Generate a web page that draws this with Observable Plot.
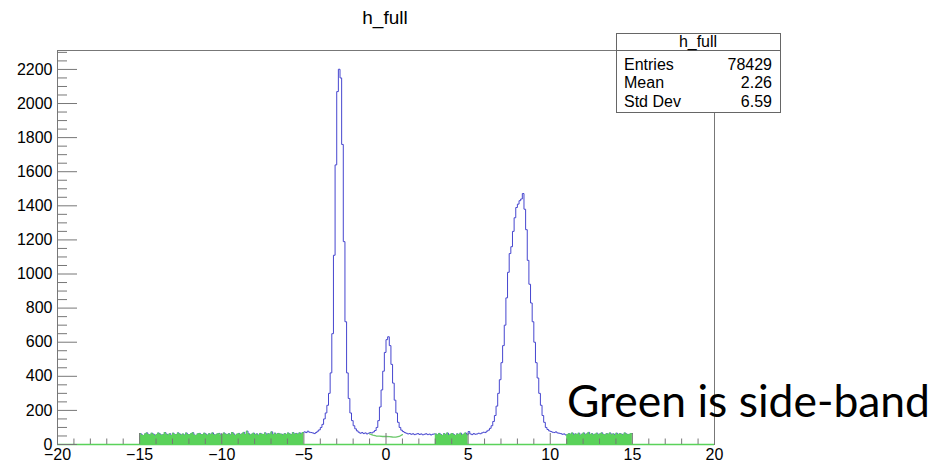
<!DOCTYPE html>
<html><head><meta charset="utf-8">
<script src="https://cdn.jsdelivr.net/npm/d3@7"></script>
<script src="https://cdn.jsdelivr.net/npm/@observablehq/plot@0.6"></script>
<style>
  html, body { margin: 0; padding: 0; background: #fff; }
  #chart svg { display: block; }
</style>
</head><body><div id="chart"></div>
<script>
// ---- data (histogram h_full, bin width 0.1) ----
const binWidth = 0.1;
// -15.0 ... -5.1  (side-band)
const leftSideband = [64,56,53,62,68,58,55,66,60,52, 59,67,61,54,57,70,60,55,63,53, 66,58,57,68,61,55,61,54,67,58, 57,63,69,55,53,62,65,58,57,66, 60,54,63,58,68,57,55,62,65,54, 59,67,60,57,63,55,70,61,53,60, 65,57,62,71,58,78,63,55,60,66, 57,62,54,65,60,58,68,55,63,60, 74,57,66,58,65,61,60,55,63,58, 67,61,57,69,60,65,58,68,62,70];
// -5.0 ... 2.9  (signal region A)
const signalA = [74,70,78,72,70,68,64,70,78,86, 100,118,150,185,230,300,420,650,1110,1640, 2070,2201,2150,1760,1190,720,420,270,185,140, 110,92,80,72,66,70,64,68,62,66, 70,68,74,82,100,140,220,320,430,540, 615,632,580,470,360,260,185,130,100,84, 76,70,66,62,64,60,63,58,61,64, 59,62,57,60,63,58,61,56,60,62];
// 3.0 ... 4.9  (side-band)
const midSideband = [61,55,65,58,53,63,57,67,54,60, 64,57,53,62,58,66,55,60,67,57];
// 5.0 ... 10.9 (signal region B)
const signalB = [76,62,58,64,60,62,66,63,68,72, 70,78,84,95,110,135,170,225,300,380, 480,580,700,860,1010,1120,1160,1250,1330,1390, 1410,1430,1440,1472,1380,1260,1080,940,830,720, 600,480,390,300,230,170,130,100,88,80, 76,72,70,74,68,66,64,60,62,56];
// 11.0 ... 14.9 (side-band)
const rightSideband = [57,63,60,67,55,62,58,66,54,60, 67,57,62,71,58,63,55,60,66,57, 62,68,58,55,63,60,67,57,62,54, 66,58,63,60,55,67,61,57,60,64];

const segmentStarts = [-15, -5, 3, 5, 11];
const segmentValues = [leftSideband, signalA, midSideband, signalB, rightSideband];
const segmentIsSideband = [true, false, true, false, true];

// green thin line under the middle peak
const fitX = [-1.0,-0.8,-0.6,-0.4,-0.2,0,0.2,0.4,0.6,0.8,1.0];
const fitY = [62,55,50,49,47,48,46,44,43,47,58];

const xTicks = [-20,-15,-10,-5,0,5,10,15,20];
const yTicks = [0,200,400,600,800,1000,1200,1400,1600,1800,2000,2200];

const titleText = "h_full";
const statLabels = ["Entries", "Mean", "Std Dev"];
const statValues = ["78429", "2.26", "6.59"];
const noteText = "Green is side-band";

// ---- build tables ----
const bluePts = [];
const greenPts = [];
segmentValues.forEach((vals, s) => {
  const start = segmentStarts[s];
  vals.forEach((v, i) => {
    const x = +(start + i * binWidth).toFixed(2);
    bluePts.push({x, y: v});
    if (segmentIsSideband[s]) greenPts.push({x, y: v, band: s});
  });
  if (segmentIsSideband[s]) {
    greenPts.push({x: +(start + vals.length * binWidth).toFixed(2), y: vals[vals.length - 1], band: s});
  }
});
const lastVals = segmentValues[segmentValues.length - 1];
bluePts.push({x: +(segmentStarts[segmentStarts.length - 1] + lastVals.length * binWidth).toFixed(2), y: lastVals[lastVals.length - 1]});
const fitPts = fitX.map((x, i) => ({x, y: fitY[i]}));

const xMinor = d3.range(-20, 21, 1).filter(d => !xTicks.includes(d));
const yMinor = d3.range(0, 2311, 50).filter(d => !yTicks.includes(d));

const W = 944, H = 465;
const mL = 57, mR = 230, mT = 50, mB = 21;
const frameW = W - mL - mR, frameH = H - mT - mB;
const GREEN = "#5ad25a", BLUE = "#4646cf", AXIS = "#777";
const FONT = "'Liberation Sans', Arial, Helvetica, sans-serif";

const plot = Plot.plot({
  width: W, height: H,
  marginLeft: mL, marginRight: mR, marginTop: mT, marginBottom: mB,
  x: {domain: [-20, 20]},
  y: {domain: [0, 2311]},
  style: {fontFamily: FONT, fontSize: "16px", background: "white", overflow: "visible", color: "#000"},
  marks: [
    Plot.lineY(bluePts, {x: "x", y: "y", curve: "step-after", stroke: BLUE, strokeWidth: 1}),
    Plot.areaY(greenPts, {x: "x", y: "y", z: "band", curve: "step-after", fill: GREEN}),
    Plot.lineY(fitPts, {x: "x", y: "y", stroke: "#6cc86c", strokeWidth: 1.3}),
    Plot.frame({stroke: AXIS}),
    Plot.ruleY([0], {stroke: GREEN, strokeWidth: 1.5}),
    Plot.ruleY(yTicks, {y: d => d, insetRight: frameW - 20, stroke: AXIS}),
    Plot.ruleY(yMinor, {y: d => d, insetRight: frameW - 10, stroke: AXIS}),
    Plot.ruleX(xTicks, {x: d => d, insetTop: frameH - 11, stroke: AXIS}),
    Plot.ruleX(xMinor, {x: d => d, insetTop: frameH - 5.5, stroke: AXIS}),
    Plot.axisY({ticks: yTicks, tickSize: 0, tickPadding: 5, tickFormat: "d", label: null, fontSize: 16, fill: "#000"}),
    Plot.axisX({ticks: xTicks, tickSize: 0, tickPadding: 4, tickFormat: "d", label: null, fontSize: 16, fill: "#000"})
  ]
});
document.getElementById("chart").appendChild(plot);

const svg = d3.select(plot);
// title
svg.append("text").attr("x", 385).attr("y", 24).attr("text-anchor", "middle")
  .attr("font-family", FONT).attr("font-size", 19).attr("fill", "#000").text(titleText);
// stats box
const bx = 616, by = 33, bw = 164, bh = 79;
const g = svg.append("g").attr("text-anchor", "start");
g.append("rect").attr("x", bx + 0.5).attr("y", by + 0.5).attr("width", bw).attr("height", bh)
  .attr("fill", "#fff").attr("stroke", "#666");
g.append("line").attr("x1", bx + 0.5).attr("x2", bx + bw + 0.5).attr("y1", 50.5).attr("y2", 50.5).attr("stroke", "#666");
g.append("text").attr("x", bx + bw / 2).attr("y", 47).attr("text-anchor", "middle")
  .attr("font-family", FONT).attr("font-size", 16).text(titleText);
statLabels.forEach((lab, i) => {
  const yy = 70 + i * 18.4;
  g.append("text").attr("x", 624).attr("y", yy).attr("text-anchor", "start").attr("font-family", FONT).attr("font-size", 16).text(lab);
  g.append("text").attr("x", 772).attr("y", yy).attr("text-anchor", "end").attr("font-family", FONT).attr("font-size", 16).text(statValues[i]);
});
// annotation
svg.append("text").attr("x", 567).attr("y", 417).attr("text-anchor", "start")
  .attr("font-family", "Lato, 'Open Sans', sans-serif").attr("font-size", 44).attr("fill", "#000")
  .attr("textLength", 363).attr("lengthAdjust", "spacingAndGlyphs").text(noteText);
</script>
</body></html>
